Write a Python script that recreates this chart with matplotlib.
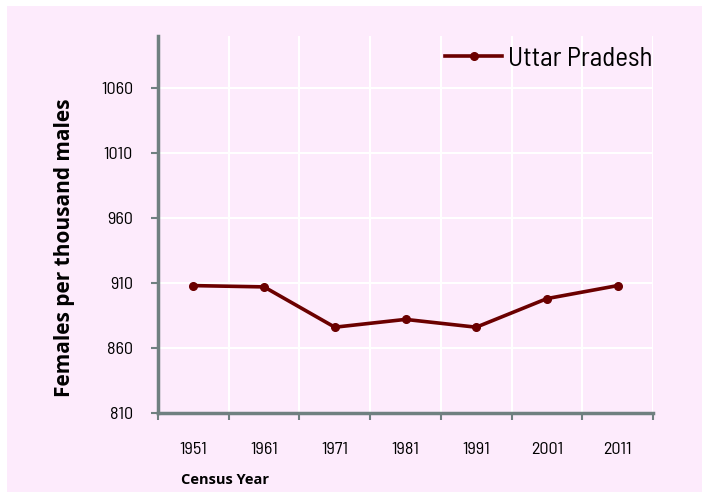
import matplotlib.pyplot as plt
from matplotlib.patches import Rectangle

years = ["1951", "1961", "1971", "1981", "1991", "2001", "2011"]
sex_ratio = [908, 907, 876, 882, 876, 898, 908]
series_name = "Uttar Pradesh"
yticks = [810, 860, 910, 960, 1010, 1060]

bg = "#fdebfc"
line_col = "#6b0000"
spine_col = "#6f8080"
narrow = ["Barlow Semi Condensed", "DejaVu Sans"]

fig = plt.figure(figsize=(7.02, 4.92), dpi=100, facecolor=bg)
# thin white margin along the top and left edges
fig.patches.append(Rectangle((0, 0), 7 / 702, 1, transform=fig.transFigure,
                             facecolor="white", edgecolor="none", zorder=-10))
fig.patches.append(Rectangle((0, 1 - 6 / 492), 1, 6 / 492, transform=fig.transFigure,
                             facecolor="white", edgecolor="none", zorder=-10))

ax = fig.add_axes([158 / 702, 79 / 492, 495 / 702, 377 / 492])
ax.set_facecolor(bg)

x = range(len(years))
ax.plot(x, sex_ratio, color=line_col, lw=2.6, marker="o", ms=5.5,
        label=series_name, zorder=3)

ax.set_xlim(-0.5, len(years) - 0.5)
ax.set_ylim(810, 1100)
ax.set_yticks(yticks)
ax.set_yticklabels([str(v) for v in yticks], fontfamily=narrow, fontsize=13)

# category axis: ticks/grid on boundaries, labels in the middle
ax.set_xticks([i - 0.5 for i in range(len(years) + 1)])
ax.set_xticklabels([])
ax.set_xticks(list(x), minor=True)
ax.set_xticklabels(years, minor=True, fontfamily=narrow, fontsize=13)
ax.tick_params(axis="x", which="minor", length=0, pad=21)
ax.tick_params(axis="x", which="major", length=5, width=1.5, color=spine_col, direction="out")
ax.tick_params(axis="y", length=5, width=1.5, color=spine_col, pad=13)

ax.grid(True, which="major", color="white", lw=1.5)
ax.set_axisbelow(True)
for s in ["top", "right"]:
    ax.spines[s].set_visible(False)
for s in ["left", "bottom"]:
    ax.spines[s].set_color(spine_col)
    ax.spines[s].set_linewidth(2.5)

fig.text(181 / 702, 1 - 480 / 492, "Census Year", fontfamily="Open Sans", fontweight="bold",
         fontsize=10.5, va="center", ha="left")
fig.text(65 / 702, 1 - 248 / 492, "Females per thousand males", fontfamily="Open Sans",
         fontweight="bold", fontsize=15, rotation=90, va="center", ha="center")

leg = ax.legend(loc="upper right", bbox_to_anchor=(1.02, 1.0), frameon=False,
                prop={"family": narrow, "size": 19.5}, handlelength=2.1,
                handletextpad=0.2, borderaxespad=0.0)

fig.savefig("out.png", dpi=100, facecolor=fig.get_facecolor())
